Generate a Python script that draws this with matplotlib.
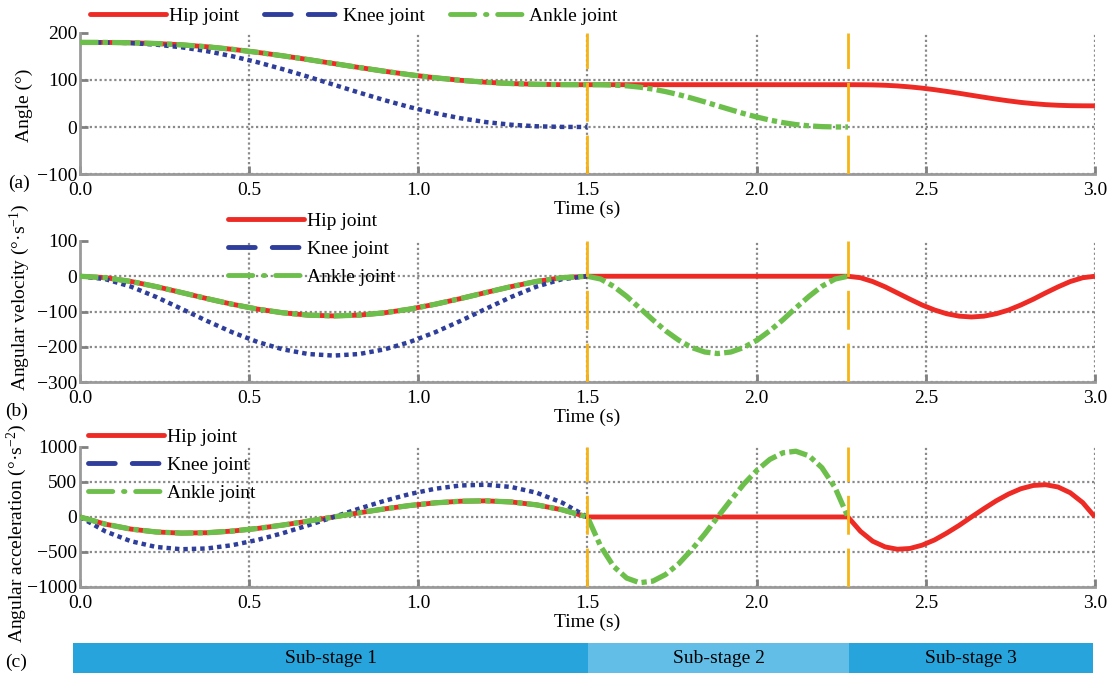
import matplotlib
matplotlib.use('Agg')
import matplotlib.pyplot as plt
from matplotlib.lines import Line2D

plt.rcParams['font.family'] = ['Liberation Serif', 'DejaVu Serif']
plt.rcParams['mathtext.fontset'] = 'custom'
plt.rcParams['mathtext.rm'] = 'Liberation Serif'
plt.rcParams['mathtext.it'] = 'Liberation Serif:italic'
plt.rcParams['font.size'] = 14
plt.rcParams['axes.unicode_minus'] = True

# ---------------- data ----------------
# time samples of each sub-stage
t_s1 = [0.0, 0.075, 0.15, 0.225, 0.3, 0.375, 0.45, 0.525, 0.6, 0.675, 0.75,
        0.825, 0.9, 0.975, 1.05, 1.125, 1.2, 1.275, 1.35, 1.425, 1.5]
t_s2 = [1.5, 1.539, 1.577, 1.616, 1.654, 1.693, 1.731, 1.77, 1.808, 1.847, 1.885,
        1.924, 1.962, 2.001, 2.039, 2.078, 2.116, 2.155, 2.193, 2.232, 2.27]
t_s3 = [2.27, 2.307, 2.343, 2.38, 2.416, 2.453, 2.489, 2.526, 2.562, 2.599, 2.635,
        2.672, 2.708, 2.745, 2.781, 2.818, 2.854, 2.891, 2.927, 2.964, 3.0]

# (a) joint angles (deg)
hip_angle_s1 = [180, 179.9, 179.2, 177.6, 174.8, 170.7, 165.3, 158.8, 151.4, 143.4, 135.0,
                126.6, 118.6, 111.2, 104.7, 99.3, 95.2, 92.4, 90.8, 90.1, 90.0]
hip_angle_s3 = [90.0, 89.9, 89.6, 88.8, 87.4, 85.3, 82.7, 79.4, 75.7, 71.7, 67.5,
                63.3, 59.3, 55.6, 52.3, 49.7, 47.6, 46.2, 45.4, 45.1, 45.0]
knee_angle_s1 = [180, 179.8, 178.5, 175.2, 169.6, 161.4, 150.6, 137.7, 122.9, 106.8, 90.0,
                 73.2, 57.1, 42.3, 29.4, 18.6, 10.4, 4.8, 1.5, 0.2, 0.0]
ankle_angle_s1 = hip_angle_s1
ankle_angle_s2 = [90.0, 89.9, 89.2, 87.6, 84.8, 80.7, 75.3, 68.8, 61.4, 53.4, 45.0,
                  36.6, 28.6, 21.2, 14.7, 9.3, 5.2, 2.4, 0.8, 0.1, 0.0]

# (b) angular velocities (deg/s)
hip_vel_s1 = [0, -4.1, -14.6, -29.3, -46.1, -63.3, -79.4, -93.2, -103.7, -110.3, -112.5,
              -110.3, -103.7, -93.2, -79.4, -63.3, -46.1, -29.3, -14.6, -4.1, 0]
hip_vel_s3 = [0, -4.2, -15.0, -30.1, -47.3, -65.0, -81.5, -95.7, -106.4, -113.2, -115.5,
              -113.2, -106.4, -95.7, -81.5, -65.0, -47.3, -30.1, -15.0, -4.2, 0]
knee_vel_s1 = [0, -8.2, -29.2, -58.6, -92.2, -126.6, -158.8, -186.4, -207.4, -220.6, -225.0,
               -220.6, -207.4, -186.4, -158.8, -126.6, -92.2, -58.6, -29.2, -8.2, 0]
ankle_vel_s1 = hip_vel_s1
ankle_vel_s2 = [0, -7.9, -28.4, -57.0, -89.8, -123.3, -154.7, -181.5, -202.0, -214.9, -219.2,
                -214.9, -202.0, -181.5, -154.7, -123.3, -89.8, -57.0, -28.4, -7.9, 0]

# (c) angular accelerations (deg/s^2)
hip_acc_s1 = [0, -102.6, -172.8, -214.2, -230.4, -225.0, -201.6, -163.8, -115.2, -59.4, 0,
              59.4, 115.2, 163.8, 201.6, 225.0, 230.4, 214.2, 172.8, 102.6, 0]
hip_acc_s3 = [0, -205, -346, -428, -461, -450, -403, -328, -230, -119, 0,
              119, 230, 328, 403, 450, 461, 428, 346, 205, 0]
knee_acc_s1 = [0, -205.2, -345.6, -428.4, -460.8, -450.0, -403.2, -327.6, -230.4, -118.8, 0,
               118.8, 230.4, 327.6, 403.2, 450.0, 460.8, 428.4, 345.6, 205.2, 0]
ankle_acc_s1 = hip_acc_s1
ankle_acc_s2 = [0, -418, -704, -873, -939, -917, -822, -667, -469, -242, 0,
                242, 469, 667, 822, 917, 939, 873, 704, 418, 0]

stage_bounds = [1.5, 2.27]
stage_edges = [-0.02, 1.5, 2.27, 2.99]
stage_names = ['Sub-stage 1', 'Sub-stage 2', 'Sub-stage 3']

xticks = [0.0, 0.5, 1.0, 1.5, 2.0, 2.5, 3.0]
xticklabels = ['0.0', '0.5', '1.0', '1.5', '2.0', '2.5', '3.0']
yticks_a = [-100, 0, 100, 200]
yticks_b = [-300, -200, -100, 0, 100]
yticks_c = [-1000, -500, 0, 500, 1000]

# ---------------- style ----------------
RED = '#EE2A24'
BLUE = '#2E3E9A'
GREEN = '#6DBF4B'
ORANGE = '#F6B416'
BAR = '#27A4DC'
BAR_LIGHT = '#63BEE7'

fig = plt.figure(figsize=(11.15, 6.8), dpi=100)
L, W = 0.0717, 0.9103
ax_a = fig.add_axes([L, 0.7441, W, 0.2074])
ax_b = fig.add_axes([L, 0.4382, W, 0.2074])
ax_c = fig.add_axes([L, 0.1368, W, 0.2059])


def style(ax, yticks):
    ax.set_xlim(0, 3)
    ax.set_ylim(yticks[0], yticks[-1])
    ax.set_xticks(xticks)
    ax.set_xticklabels(xticklabels)
    ax.set_yticks(yticks)
    for s in ['top', 'right']:
        ax.spines[s].set_visible(False)
    for s in ['left', 'bottom']:
        ax.spines[s].set_color('#9a9a9a')
        ax.spines[s].set_linewidth(2)
    ax.grid(True, color='#8a8a8a', linestyle=(0, (1, 1.2)), linewidth=1.6)
    ax.get_ygridlines()[-1].set_visible(False)
    ax.tick_params(direction='in', length=6, width=2, color='#808080', labelsize=14)
    ax.tick_params(axis='x', pad=6)
    ax.tick_params(axis='y', pad=2)
    ax.set_xlabel('Time (s)', labelpad=1, fontsize=14)


def draw(ax, hip, knee, ankle):
    ax.plot(t_s1 + t_s3, hip, color=RED, lw=3.5, solid_capstyle='butt', zorder=3)
    ax.plot(t_s1, knee, color=BLUE, lw=3.2, linestyle=(0, (1, 0.9)), zorder=3)
    ax.plot(t_s1 + t_s2[1:], ankle, color=GREEN, lw=3.8, linestyle=(0, (3.5, 0.8, 1, 0.8)), zorder=4)
    for xb in stage_bounds:
        ax.axvline(xb, color=ORANGE, lw=2, linestyle=(0, (14, 5)), zorder=6)


draw(ax_a, hip_angle_s1 + hip_angle_s3, knee_angle_s1, ankle_angle_s1 + ankle_angle_s2[1:])
draw(ax_b, hip_vel_s1 + hip_vel_s3, knee_vel_s1, ankle_vel_s1 + ankle_vel_s2[1:])
draw(ax_c, hip_acc_s1 + hip_acc_s3, knee_acc_s1, ankle_acc_s1 + ankle_acc_s2[1:])

style(ax_a, yticks_a)
style(ax_b, yticks_b)
style(ax_c, yticks_c)

ax_a.set_ylabel('Angle (°)', fontsize=14)
ax_a.yaxis.set_label_coords(-0.046, 0.49)
ax_b.set_ylabel('Angular velocity (°·s$^{-1}$)', fontsize=14)
ax_b.yaxis.set_label_coords(-0.047, 0.6)
ax_c.set_ylabel('Angular acceleration (°·s$^{-2}$)', fontsize=14)
ax_c.yaxis.set_label_coords(-0.05, 0.38)

handles = [
    Line2D([], [], color=RED, lw=3.5, solid_capstyle='round'),
    Line2D([], [], color=BLUE, lw=3.5, linestyle=(0, (5.5, 3.5)), dash_capstyle='round'),
    Line2D([], [], color=GREEN, lw=3.5, linestyle=(0, (5, 2.2, 0.3, 2.2)), dash_capstyle='round'),
]
labels = ['Hip joint', 'Knee joint', 'Ankle joint']
leg_kw = dict(frameon=False, handlelength=3.9, handletextpad=0.15, borderpad=0,
              borderaxespad=0, fontsize=14)
ax_a.legend(handles, labels, loc='center left', bbox_to_anchor=(0.01, 1.12), ncol=3,
            columnspacing=1.3, **leg_kw)
ax_b.legend(handles, labels, loc='center left', bbox_to_anchor=(0.146, 0.943),
            labelspacing=0.55, **leg_kw)
ax_c.legend(handles, labels, loc='center left', bbox_to_anchor=(0.008, 0.871),
            labelspacing=0.55, **leg_kw)

fig.text(8 / 1115, 1 - 183 / 680, '(a)', ha='left', va='center', fontsize=14)
fig.text(5 / 1115, 1 - 411 / 680, '(b)', ha='left', va='center', fontsize=14)
fig.text(5 / 1115, 1 - 662 / 680, '(c)', ha='left', va='center', fontsize=14)

# sub-stage bar
ax_s = fig.add_axes([73 / 1115, 0.0103, 1020 / 1115, 0.0441])
ax_s.set_xlim(stage_edges[0], stage_edges[-1])
ax_s.set_ylim(0, 1)
ax_s.axis('off')
lefts = stage_edges[:-1]
widths = [stage_edges[i + 1] - stage_edges[i] for i in range(3)]
ax_s.barh(0.5, widths, left=lefts, height=1, color=[BAR, BAR_LIGHT, BAR], linewidth=0)
for lft, w, name in zip(lefts, widths, stage_names):
    ax_s.text(lft + w / 2, 0.5, name, ha='center', va='center', fontsize=14)

fig.savefig('out.png', dpi=100)
